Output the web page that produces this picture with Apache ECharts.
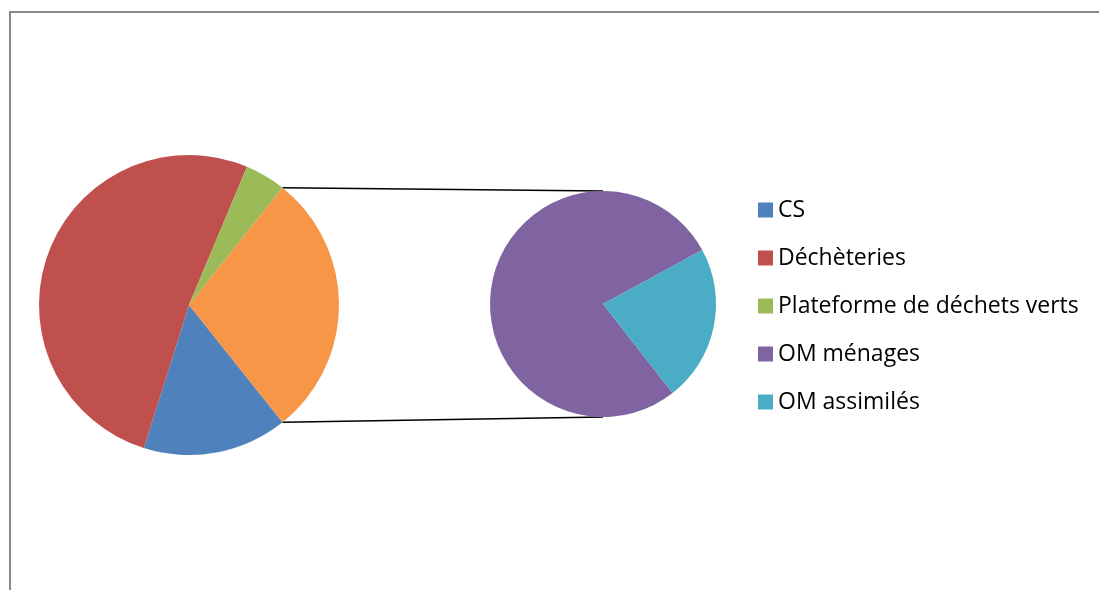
<!DOCTYPE html>
<html>
<head>
<meta charset="utf-8">
<script src="https://cdn.jsdelivr.net/npm/echarts@6/dist/echarts.min.js"></script>
<style>
html,body{margin:0;padding:0;background:#fff;}
#main{width:1099px;height:590px;}
</style>
</head>
<body>
<div id="main"></div>
<script>
// ---- data ----
const mainNames = ['CS', 'Déchèteries', 'Plateforme de déchets verts'];
const mainValues = [15.6, 51.5, 4.4];
const subNames = ['OM ménages', 'OM assimilés'];
const subValues = [22.2, 6.4];
const otherName = 'Autre';

// ---- styles ----
const mainColors = ['#4F81BD', '#C0504D', '#9BBB59'];
const otherColor = '#F79646';
const subColors = ['#8064A2', '#4BACC6'];

const leftCenter = [189, 305], leftR = 150;
const rightCenter = [603, 304], rightR = 113;

const otherValue = subValues.reduce((a, b) => a + b, 0);
const total = mainValues.reduce((a, b) => a + b, 0) + otherValue;
const fOther = otherValue / total;
const leftStart = -fOther * 180; // other slice centred at 3 o'clock

const leftData = mainNames.map((n, i) => ({ name: n, value: mainValues[i], itemStyle: { color: mainColors[i] } }));
leftData.push({ name: otherName, value: otherValue, itemStyle: { color: otherColor } });
const rightData = subNames.map((n, i) => ({ name: n, value: subValues[i], itemStyle: { color: subColors[i] } }));

// connector endpoints derived from the data geometry
const a = fOther * Math.PI; // half-angle of other slice (radians)
const pTop = [leftCenter[0] + leftR * Math.cos(a), leftCenter[1] - leftR * Math.sin(a)];
const pBot = [leftCenter[0] + leftR * Math.cos(a), leftCenter[1] + leftR * Math.sin(a)];
const qTop = [rightCenter[0], rightCenter[1] - rightR];
const qBot = [rightCenter[0], rightCenter[1] + rightR];

const chart = echarts.init(document.getElementById('main'), null, { renderer: 'canvas' });
chart.setOption({
  animation: false,
  backgroundColor: '#ffffff',
  legend: {
    orient: 'vertical',
    left: 753,
    top: 193,
    itemWidth: 15,
    itemHeight: 15,
    itemGap: 24,
    icon: 'rect',
    data: mainNames.concat(subNames),
    selectedMode: false,
    textStyle: { fontFamily: 'Open Sans', fontSize: 23, color: '#000', lineHeight: 24, padding: [0, 0, 0, 0] }
  },
  series: [
    {
      type: 'pie',
      center: leftCenter,
      radius: [0, leftR],
      startAngle: leftStart,
      clockwise: true,
      label: { show: false },
      labelLine: { show: false },
      emphasis: { disabled: true },
      itemStyle: { borderWidth: 0 },
      data: leftData
    },
    {
      type: 'pie',
      center: rightCenter,
      radius: [0, rightR],
      startAngle: -52,
      clockwise: true,
      label: { show: false },
      labelLine: { show: false },
      emphasis: { disabled: true },
      itemStyle: { borderWidth: 0 },
      data: rightData
    }
  ],
  graphic: [
    { type: 'line', shape: { x1: 10, y1: 12, x2: 1099, y2: 12 }, style: { stroke: '#898989', lineWidth: 2 } },
    { type: 'line', shape: { x1: 10, y1: 11, x2: 10, y2: 590 }, style: { stroke: '#898989', lineWidth: 2 } },
    { type: 'line', shape: { x1: pTop[0], y1: pTop[1], x2: qTop[0], y2: qTop[1] }, style: { stroke: '#000', lineWidth: 1.7 } },
    { type: 'line', shape: { x1: pBot[0], y1: pBot[1], x2: qBot[0], y2: qBot[1] }, style: { stroke: '#000', lineWidth: 1.7 } }
  ]
});
</script>
</body>
</html>
